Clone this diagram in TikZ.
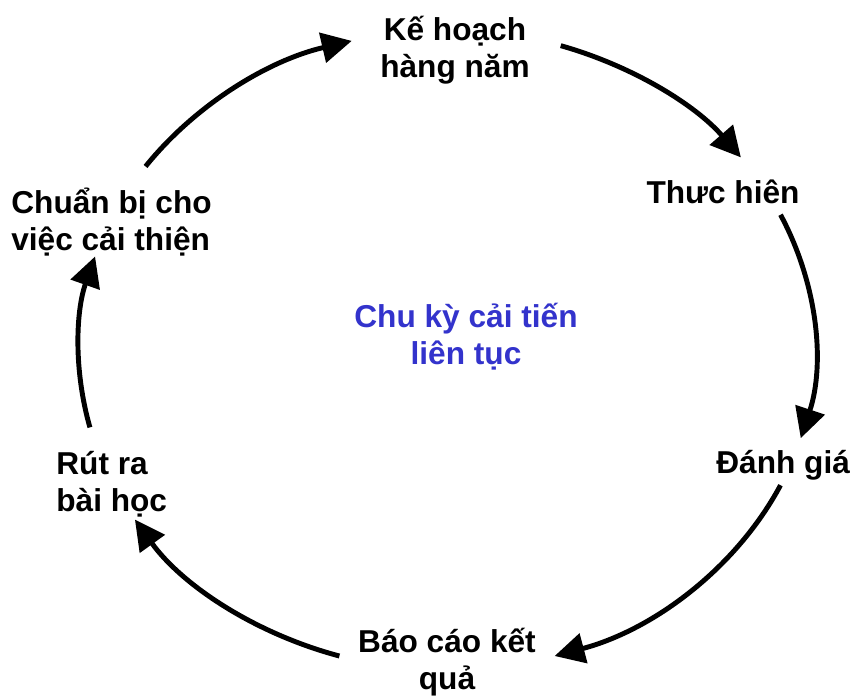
\documentclass[tikz,border=0pt]{standalone}
\usepackage{fontspec}
\setmainfont{Liberation Sans}
\usepackage{tikz}
\usetikzlibrary{arrows.meta}
\usetikzlibrary{positioning}
\tikzset{cyc/.style = {line width=2.8pt, -{Triangle[length=0.6cm, width=0.6cm]}},
         lbl/.style = {font=\fontsize{18}{21}\selectfont\bfseries, inner sep=0pt}}
\definecolor{cblue}{rgb}{0.2, 0.2, 0.8}

\begin{document}
\begin{tikzpicture}
      \useasboundingbox (-8.94, -7) rectangle (8.08, 7);

      \node [lbl, align=center] (plan) at (0.16, 6.0) {Kế hoạch\\hàng năm};
      \node [lbl] (act) at (5.52, 3.16) {Thưc hiên};
      \node [lbl, anchor=west] (eval) at (5.38, -2.3) {Đánh giá};
      \node [lbl, align=center] (report) at (0, -6.24) {Báo cáo kết\\quả};
      \node [lbl, align=left, anchor=west] (lesson) at (-7.82, -2.68) {Rút ra\\bài học};
      \node [lbl, align=left, anchor=west] (prep) at (-8.72, 2.56) {Chuẩn bị cho\\việc cải thiện};
      \node [lbl, align=center, cblue] (cycle) at (0.38, 0.26) {Chu kỳ cải tiến\\liên tục};

      \coordinate (a1) at (145:7.36 and 6.4);
      \coordinate (a2) at (72:7.36 and 6.4);
      \coordinate (a3) at (25:7.36 and 6.4);
      \coordinate (a4) at (-25:7.36 and 6.4);
      \coordinate (a5) at (-107:7.36 and 6.4);
      \coordinate (a6) at (194:7.36 and 6.4);

      \draw [cyc] (a1) arc [start angle=145, end angle=105, x radius=7.36, y radius=6.4];
      \draw [cyc] (a2) arc [start angle=72, end angle=37, x radius=7.36, y radius=6.4];
      \draw [cyc] (a3) arc [start angle=25, end angle=-16, x radius=7.36, y radius=6.4];
      \draw [cyc] (a4) arc [start angle=-25, end angle=-73, x radius=7.36, y radius=6.4];
      \draw [cyc] (a5) arc [start angle=-107, end angle=-148, x radius=7.36, y radius=6.4];
      \draw [cyc] (a6) arc [start angle=194, end angle=163, x radius=7.36, y radius=6.4];

    \end{tikzpicture}
\end{document}
